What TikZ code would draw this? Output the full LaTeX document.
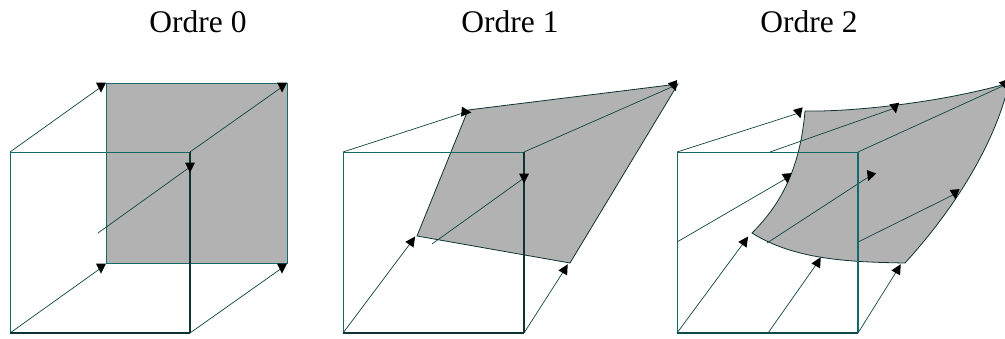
\documentclass[tikz,border=0pt]{standalone}
\usepackage{fontspec}
\setmainfont{Liberation Serif}
\definecolor{edgeteal}{RGB}{20,105,105}
\definecolor{edgedark}{RGB}{15,50,50}
\definecolor{surf}{RGB}{178,178,178}
\tikzset{
  x=1pt,y=-1pt,
  surface/.style={fill=surf,draw=edgedark,line width=0.8pt},
  thinedge/.style={draw=edgeteal,line width=0.8pt},
  darkedge/.style={draw=edgedark,line width=1.3pt},
  vector/.style={draw=edgedark!70!edgeteal,line width=0.7pt},
  title/.style={font=\fontsize{31.5}{34}\selectfont,anchor=base,inner sep=0pt}
}
% arrow head: centre, direction in degrees counter-clockwise on the page
\newcommand{\headtip}[2]{\fill[black,shift={(#1)},rotate=#2] (-4.5,-5) -- (5.5,0) -- (-4.5,5) -- cycle;}
\newcommand{\cubebox}[4]{%
  \draw[thinedge] (#1) -- (#2);
  \draw[thinedge] (#1) -- (#4);
  \draw[darkedge] (#2) -- (#3);
  \draw[darkedge] (#4) -- (#3);
}
\begin{document}
\begin{tikzpicture}
\useasboundingbox (0,0) rectangle (1005,338);
\clip (0,0) rectangle (1005,338);
\node[title] (t0) at (198,32) {Ordre 0};
\node[title] (t1) at (510,32) {Ordre 1};
\node[title] (t2) at (809,32) {Ordre 2};

% ---------- panel 0
\coordinate (a0) at (10,152); \coordinate (b0) at (190,152);
\coordinate (c0) at (190,333); \coordinate (d0) at (10,333);
\coordinate (e0) at (106,83); \coordinate (f0) at (287,83);
\coordinate (g0) at (287,263); \coordinate (h0) at (106,263);
\coordinate (m0) at (98,233);
\coordinate (ta0) at (101,87); \coordinate (tb0) at (282,87);
\coordinate (tm0) at (190,167); \coordinate (td0) at (101,268); \coordinate (tc0) at (282,268);
\draw[surface,draw=edgeteal] (e0) -- (f0) -- (g0) -- (h0) -- cycle;
\draw[vector] (a0) -- (ta0);
\draw[vector] (b0) -- (tb0);
\draw[vector] (m0) -- (tm0);
\draw[vector] (d0) -- (td0);
\draw[vector] (c0) -- (tc0);
\cubebox{a0}{b0}{c0}{d0}
\headtip{ta0}{-90}\headtip{tb0}{-90}\headtip{tm0}{-90}\headtip{td0}{-90}\headtip{tc0}{-90}

% ---------- panel 1
\coordinate (a1) at (343,152); \coordinate (b1) at (524,152);
\coordinate (c1) at (524,333); \coordinate (d1) at (343,333);
\coordinate (e1) at (468,110); \coordinate (f1) at (678,84);
\coordinate (g1) at (570,263); \coordinate (h1) at (417,236);
\coordinate (m1) at (432,244);
\coordinate (ta1) at (466,112); \coordinate (tb1) at (674,86);
\coordinate (tm1) at (524,178); \coordinate (td1) at (412,241); \coordinate (tc1) at (565,269);
\draw[surface] (e1) -- (f1) -- (g1) -- (h1) -- cycle;
\draw[vector] (a1) -- (ta1);
\draw[vector] (b1) -- (tb1);
\draw[vector] (m1) -- (tm1);
\draw[vector] (d1) -- (td1);
\draw[vector] (c1) -- (tc1);
\cubebox{a1}{b1}{c1}{d1}
\headtip{ta1}{-5}\headtip{tb1}{-70}\headtip{tm1}{-90}\headtip{td1}{55}\headtip{tc1}{60}

% ---------- panel 2
\coordinate (a2) at (677,152); \coordinate (b2) at (858,152);
\coordinate (c2) at (858,333); \coordinate (d2) at (677,333);
\coordinate (e2) at (805,111); \coordinate (f2) at (1009,83);
\coordinate (g2) at (905,263); \coordinate (h2) at (752,233);
\coordinate (n2) at (770,152); \coordinate (l2) at (677,242);
\coordinate (m2) at (767,243); \coordinate (r2) at (858,242); \coordinate (o2) at (768,333);
\coordinate (ta2) at (799,113); \coordinate (tn2) at (895,108); \coordinate (tb2) at (1005,85);
\coordinate (tl2) at (787,178); \coordinate (tm2) at (870,176); \coordinate (tr2) at (955,194);
\coordinate (td2) at (745,241); \coordinate (to2) at (818,262); \coordinate (tc2) at (898,269);
\draw[surface] (e2) .. controls (850,112) and (940,103) .. (f2)
  .. controls (996,140) and (958,205) .. (g2)
  .. controls (850,262) and (795,260) .. (h2)
  .. controls (780,205) and (800,170) .. cycle;
\draw[vector] (a2) -- (ta2);
\draw[vector] (n2) -- (tn2);
\draw[vector] (b2) -- (tb2);
\draw[vector] (l2) -- (tl2);
\draw[vector] (m2) -- (tm2);
\draw[vector] (r2) -- (tr2);
\draw[vector] (d2) -- (td2);
\draw[vector] (o2) -- (to2);
\draw[vector] (c2) -- (tc2);
\draw[thinedge] (a2) -- (b2);
\draw[thinedge] (a2) -- (d2);
\draw[thinedge,line width=1.1pt] (b2) -- (c2);
\draw[darkedge,draw=edgeteal!70!black] (d2) -- (c2);
\headtip{ta2}{-75}\headtip{tn2}{-80}\headtip{tb2}{-70}\headtip{tl2}{-85}\headtip{tm2}{-110}\headtip{tr2}{-85}
\headtip{td2}{55}\headtip{to2}{60}\headtip{tc2}{60}
\end{tikzpicture}
\end{document}
